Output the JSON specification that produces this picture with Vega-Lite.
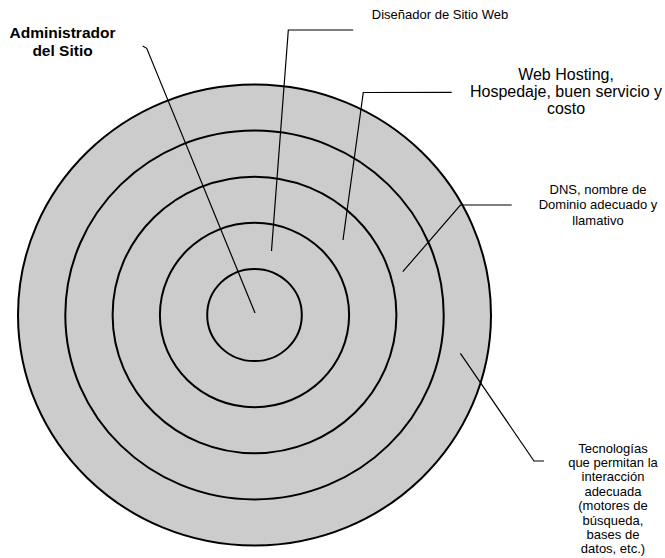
{
  "$schema": "https://vega.github.io/schema/vega-lite/v6.json",
  "width": 665,
  "height": 558,
  "padding": 0,
  "autosize": {"type": "none"},
  "background": "white",
  "config": {"view": {"stroke": null}},
  "datasets": {
    "rings": [
      {"ring": "Tecnologías", "level": 5},
      {"ring": "DNS", "level": 4},
      {"ring": "Web Hosting", "level": 3},
      {"ring": "Diseñador de Sitio Web", "level": 2},
      {"ring": "Administrador del Sitio", "level": 1}
    ],
    "leaders": [
      {"id": "admin", "seq": 1, "x": -2.364, "y": 5.835},
      {"id": "admin", "seq": 2, "x": -2.279, "y": 5.785},
      {"id": "admin", "seq": 3, "x": 0.011, "y": 0.043},
      {"id": "disenador", "seq": 1, "x": 2.089, "y": 6.182},
      {"id": "disenador", "seq": 2, "x": 0.715, "y": 6.182},
      {"id": "disenador", "seq": 3, "x": 0.359, "y": 1.388},
      {"id": "hosting", "seq": 1, "x": 4.169, "y": 4.831},
      {"id": "hosting", "seq": 2, "x": 2.3, "y": 4.826},
      {"id": "hosting", "seq": 3, "x": 1.871, "y": 1.627},
      {"id": "dns", "seq": 1, "x": 5.438, "y": 2.386},
      {"id": "dns", "seq": 2, "x": 4.353, "y": 2.386},
      {"id": "dns", "seq": 3, "x": 3.135, "y": 0.939},
      {"id": "tec", "seq": 1, "x": 4.353, "y": -0.831},
      {"id": "tec", "seq": 2, "x": 5.909, "y": -3.167},
      {"id": "tec", "seq": 3, "x": 6.121, "y": -3.167}
    ],
    "labels": [
      {"id": "admin", "text": "Administrador\ndel Sitio", "x": -4.059, "y": 6.002},
      {"id": "disenador", "text": "Diseñador de Sitio Web", "x": 3.922, "y": 6.421},
      {"id": "hosting", "text": "Web Hosting,\nHospedaje, buen servicio y\ncosto", "x": 6.586, "y": 5.098},
      {"id": "dns", "text": "DNS, nombre de\nDominio adecuado y\nllamativo", "x": 7.262, "y": 2.625},
      {"id": "tec", "text": "Tecnologías\nque permitan la\ninteracción\nadecuada\n(motores de\nbúsqueda,\nbases de\ndatos, etc.)", "x": 7.579, "y": -2.983}
    ]
  },
  "layer": [
    {
      "data": {"name": "rings"},
      "mark": {
        "type": "point",
        "shape": "M-1,0 A1,0.9746,0,1,1,1,0 A1,0.9746,0,1,1,-1,0 Z",
        "filled": true,
        "fill": "#cccccc",
        "stroke": "#000000",
        "strokeWidth": 2,
        "opacity": 1
      },
      "encoding": {
        "x": {"datum": 0, "type": "quantitative", "scale": {"domain": [-5.381, 8.679], "nice": false, "zero": false}, "axis": null},
        "y": {"datum": 0, "type": "quantitative", "scale": {"domain": [-5.271, 6.833], "nice": false, "zero": false}, "axis": null},
        "size": {"field": "level", "type": "quantitative", "scale": {"type": "pow", "exponent": 2, "domain": [0, 5], "range": [0, 223729]}, "legend": null}
      }
    },
    {
      "data": {"name": "leaders"},
      "mark": {"type": "line", "color": "#000000", "strokeWidth": 1.2},
      "encoding": {
        "x": {"field": "x", "type": "quantitative", "scale": {"domain": [-5.381, 8.679], "nice": false, "zero": false}, "axis": null},
        "y": {"field": "y", "type": "quantitative", "scale": {"domain": [-5.271, 6.833], "nice": false, "zero": false}, "axis": null},
        "detail": {"field": "id"},
        "order": {"field": "seq", "type": "quantitative"}
      }
    },
    {
      "data": {"name": "labels"},
      "transform": [{"filter": "datum.id === 'admin'"}],
      "mark": {"type": "text", "align": "center", "baseline": "alphabetic", "lineBreak": "\n", "font": "Liberation Sans", "fontSize": 15.5, "fontWeight": "bold", "lineHeight": 18, "color": "#000000"},
      "encoding": {
        "x": {"field": "x", "type": "quantitative", "axis": null},
        "y": {"field": "y", "type": "quantitative", "axis": null},
        "text": {"field": "text"}
      }
    },
    {
      "data": {"name": "labels"},
      "transform": [{"filter": "datum.id === 'disenador'"}],
      "mark": {"type": "text", "align": "center", "baseline": "alphabetic", "lineBreak": "\n", "font": "Liberation Sans", "fontSize": 13, "color": "#000000"},
      "encoding": {
        "x": {"field": "x", "type": "quantitative", "axis": null},
        "y": {"field": "y", "type": "quantitative", "axis": null},
        "text": {"field": "text"}
      }
    },
    {
      "data": {"name": "labels"},
      "transform": [{"filter": "datum.id === 'hosting'"}],
      "mark": {"type": "text", "align": "center", "baseline": "alphabetic", "lineBreak": "\n", "font": "Liberation Sans", "fontSize": 16, "lineHeight": 17, "color": "#000000"},
      "encoding": {
        "x": {"field": "x", "type": "quantitative", "axis": null},
        "y": {"field": "y", "type": "quantitative", "axis": null},
        "text": {"field": "text"}
      }
    },
    {
      "data": {"name": "labels"},
      "transform": [{"filter": "datum.id === 'dns'"}],
      "mark": {"type": "text", "align": "center", "baseline": "alphabetic", "lineBreak": "\n", "font": "Liberation Sans", "fontSize": 13, "lineHeight": 15.5, "color": "#000000"},
      "encoding": {
        "x": {"field": "x", "type": "quantitative", "axis": null},
        "y": {"field": "y", "type": "quantitative", "axis": null},
        "text": {"field": "text"}
      }
    },
    {
      "data": {"name": "labels"},
      "transform": [{"filter": "datum.id === 'tec'"}],
      "mark": {"type": "text", "align": "center", "baseline": "alphabetic", "lineBreak": "\n", "font": "Liberation Sans", "fontSize": 13, "lineHeight": 14.4, "color": "#000000"},
      "encoding": {
        "x": {"field": "x", "type": "quantitative", "axis": null},
        "y": {"field": "y", "type": "quantitative", "axis": null},
        "text": {"field": "text"}
      }
    }
  ]
}
